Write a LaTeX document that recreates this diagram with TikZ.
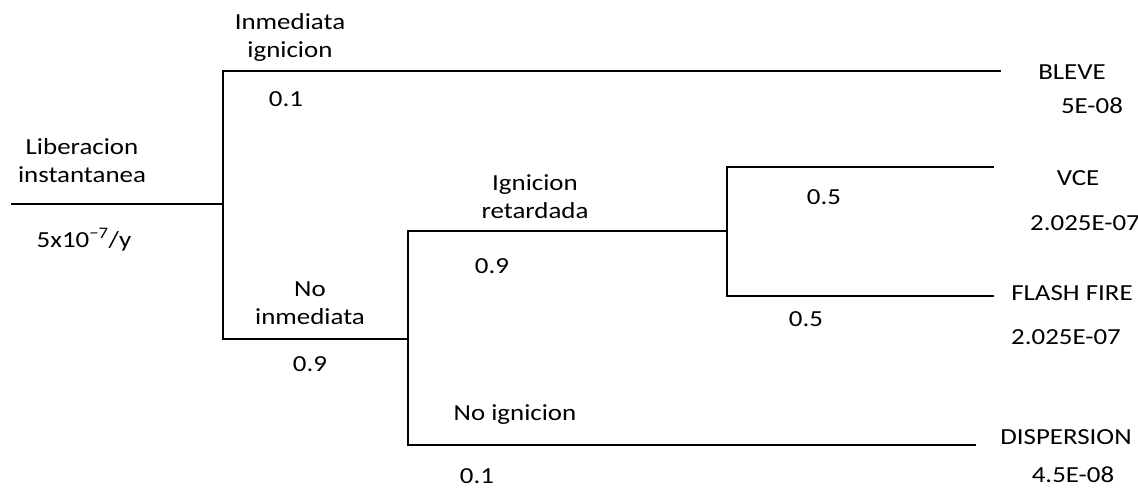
\documentclass[tikz,border=0pt]{standalone}
\usepackage{fontspec}
\setmainfont[FakeStretch=1.17]{Carlito}
\begin{document}
\begin{tikzpicture}[x=1pt,y=-1pt,
  branch/.style={line width=1.4pt,line cap=rect},
  lbl/.style={inner sep=0pt,font=\fontsize{23}{28}\selectfont},
  lbl2/.style={lbl,align=center}]
\useasboundingbox (0,0) rectangle (1138,488);
% junctions and branch ends
\coordinate (start) at (12,204);
\coordinate (j1) at (223,204);
\coordinate (j1t) at (223,71);
\coordinate (j1b) at (223,339);
\coordinate (bleve) at (1000,71);
\coordinate (j2) at (408,339);
\coordinate (j2t) at (408,231);
\coordinate (j2b) at (408,445);
\coordinate (disp) at (975,445);
\coordinate (j3) at (727,231);
\coordinate (j3t) at (727,167);
\coordinate (j3b) at (727,296);
\coordinate (vce) at (993,167);
\coordinate (flash) at (993,296);
% tree
\draw[branch] (start) -- (j1);
\draw[branch] (bleve) -- (j1t) -- (j1b) -- (j2);
\draw[branch] (j2t) -- (j2b) -- (disp);
\draw[branch] (j2t) -- (j3);
\draw[branch] (vce) -- (j3t) -- (j3b) -- (flash);
% branch labels
\node[lbl2] (init) at (82,161) {Liberacion\\instantanea};
\node[lbl] (freq) at (84,240) {5x10\textsuperscript{−7}/y};
\node[lbl2] (imm) at (290,37) {Inmediata\\ignicion};
\node[lbl] (p1) at (286,99) {0.1};
\node[lbl2] (noimm) at (310,303) {No\\inmediata};
\node[lbl] (p2) at (310,364) {0.9};
\node[lbl2] (late) at (535,197) {Ignicion\\retardada};
\node[lbl] (p3) at (492,266) {0.9};
\node[lbl] (p4) at (824,197) {0.5};
\node[lbl] (p5) at (806,319) {0.5};
\node[lbl] (noign) at (515,415) {No ignicion};
\node[lbl] (p6) at (477,476) {0.1};
% outcomes
\node[lbl] (o1) at (1072,72) {BLEVE};
\node[lbl] (f1) at (1092,106) {5E-08};
\node[lbl] (o2) at (1078,178) {VCE};
\node[lbl] (f2) at (1085,223) {2.025E-07};
\node[lbl] (o3) at (1072,293) {FLASH FIRE};
\node[lbl] (f3) at (1066,337) {2.025E-07};
\node[lbl] (o4) at (1066,437) {DISPERSION};
\node[lbl] (f4) at (1073,475) {4.5E-08};
\end{tikzpicture}
\end{document}
